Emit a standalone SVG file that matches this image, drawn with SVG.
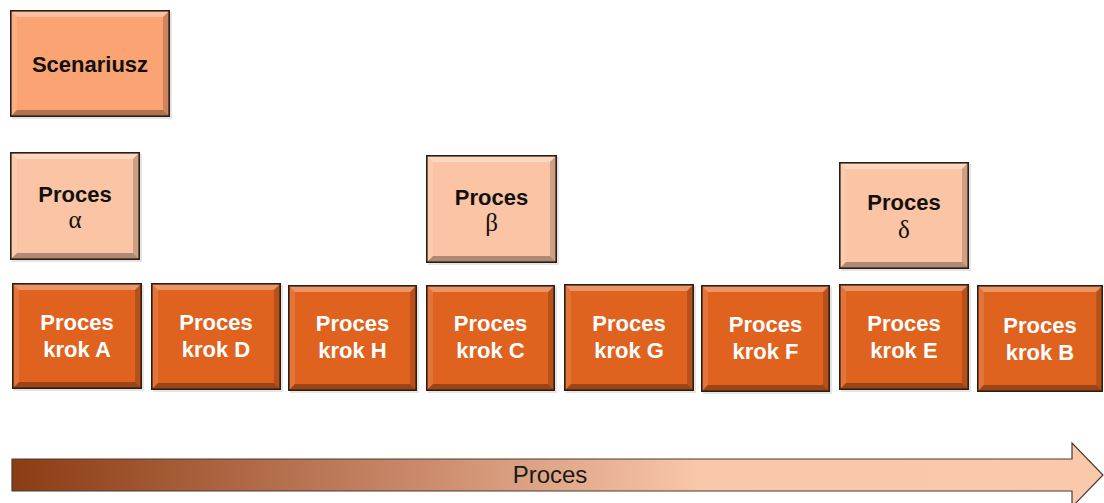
<svg xmlns="http://www.w3.org/2000/svg" xmlns:xlink="http://www.w3.org/1999/xlink" width="1104" height="503" viewBox="0 0 1104 503">
  <defs>
    <style>
      .edge { fill: none; stroke: #2a1e16; stroke-width: 1.6; }
      .hi { fill: #ffffff; opacity: 0.32; }
      .hi2 { fill: #ffffff; opacity: 0.12; }
      .lo { fill: #000000; opacity: 0.18; }
      .lo2 { fill: #000000; opacity: 0.30; }
      .shadow { fill: #000000; opacity: 0.10; }
      .scen { fill: #fba373; }
      .light { fill: #fbc4a4; }
      .dark { fill: #e0621f; }
      .lbl { font-family: "Liberation Sans", Arial, sans-serif; font-weight: bold; font-size: 22px; text-anchor: middle; }
      .lbl-dark { fill: #111111; }
      .lbl-white { fill: #ffffff; }
      .greek { font-family: "Liberation Serif", "Times New Roman", serif; font-size: 25px; fill: #111111; text-anchor: middle; }
      .axis { font-family: "Liberation Sans", Arial, sans-serif; font-size: 24px; fill: #1a1a1a; text-anchor: middle; }
    </style>
    <!-- bevel overlay for 130x107 boxes, stretched to each box's size -->
    <symbol id="bevel" viewBox="0 0 130 107" preserveAspectRatio="none">
      <polygon class="hi" points="0,0 130,0 123,7 7,7"/>
      <polygon class="hi2" points="0,0 7,7 7,100 0,107"/>
      <polygon class="lo" points="130,0 130,107 123,100 123,7"/>
      <polygon class="lo2" points="0,107 130,107 123,100 7,100"/>
      <rect class="edge" x="0.8" y="0.8" width="128.4" height="105.4"/>
    </symbol>
    <symbol id="bevelWide" viewBox="0 0 160 107" preserveAspectRatio="none">
      <polygon class="hi" points="0,0 160,0 153,7 7,7"/>
      <polygon class="hi2" points="0,0 7,7 7,100 0,107"/>
      <polygon class="lo" points="160,0 160,107 153,100 153,7"/>
      <polygon class="lo2" points="0,107 160,107 153,100 7,100"/>
      <rect class="edge" x="0.8" y="0.8" width="158.4" height="105.4"/>
    </symbol>
    <linearGradient id="axisGrad" gradientUnits="userSpaceOnUse" x1="12" y1="0" x2="1103" y2="0">
      <stop offset="0" stop-color="#8b3c14"/>
      <stop offset="0.37" stop-color="#c9896a"/>
      <stop offset="0.63" stop-color="#f9c7a9"/>
      <stop offset="1" stop-color="#fac8aa"/>
    </linearGradient>
  </defs>

  <rect width="1104" height="503" fill="#ffffff"/>

  <!-- scenario header -->
  <g id="scenariusz">
    <rect class="shadow" x="12" y="12" width="160" height="107"/>
    <rect class="scen" x="10" y="10" width="160" height="107"/>
    <use xlink:href="#bevelWide" x="10" y="10" width="160" height="107"/>
    <text class="lbl lbl-dark" x="90" y="72">Scenariusz</text>
  </g>

  <!-- sub-processes -->
  <g id="proces-alpha">
    <rect class="shadow" x="12" y="154" width="130" height="108"/>
    <rect class="light" x="10" y="152" width="130" height="108"/>
    <use xlink:href="#bevel" x="10" y="152" width="130" height="108"/>
    <text class="lbl lbl-dark" x="75" y="202">Proces</text>
    <text class="greek" x="75" y="228">α</text>
  </g>
  <g id="proces-beta">
    <rect class="shadow" x="428" y="157" width="131" height="108"/>
    <rect class="light" x="426" y="155" width="131" height="108"/>
    <use xlink:href="#bevel" x="426" y="155" width="131" height="108"/>
    <text class="lbl lbl-dark" x="491.5" y="205">Proces</text>
    <text class="greek" x="491.5" y="231">β</text>
  </g>
  <g id="proces-delta">
    <rect class="shadow" x="841" y="164" width="130" height="107"/>
    <rect class="light" x="839" y="162" width="130" height="107"/>
    <use xlink:href="#bevel" x="839" y="162" width="130" height="107"/>
    <text class="lbl lbl-dark" x="904" y="210">Proces</text>
    <text class="greek" x="904" y="238">δ</text>
  </g>

  <!-- process steps -->
  <g id="krok-a">
    <rect class="shadow" x="14" y="285" width="130" height="106"/>
    <rect class="dark" x="12" y="283" width="130" height="106"/>
    <use xlink:href="#bevel" x="12" y="283" width="130" height="106"/>
    <text class="lbl lbl-white" x="77" y="330">Proces</text>
    <text class="lbl lbl-white" x="77" y="357">krok A</text>
  </g>
  <g id="krok-d">
    <rect class="shadow" x="153" y="285" width="130" height="107"/>
    <rect class="dark" x="151" y="283" width="130" height="107"/>
    <use xlink:href="#bevel" x="151" y="283" width="130" height="107"/>
    <text class="lbl lbl-white" x="216" y="330">Proces</text>
    <text class="lbl lbl-white" x="216" y="357">krok D</text>
  </g>
  <g id="krok-h">
    <rect class="shadow" x="290" y="287" width="129" height="106"/>
    <rect class="dark" x="288" y="285" width="129" height="106"/>
    <use xlink:href="#bevel" x="288" y="285" width="129" height="106"/>
    <text class="lbl lbl-white" x="352.5" y="331">Proces</text>
    <text class="lbl lbl-white" x="352.5" y="358">krok H</text>
  </g>
  <g id="krok-c">
    <rect class="shadow" x="428" y="287" width="129" height="106"/>
    <rect class="dark" x="426" y="285" width="129" height="106"/>
    <use xlink:href="#bevel" x="426" y="285" width="129" height="106"/>
    <text class="lbl lbl-white" x="490.5" y="331">Proces</text>
    <text class="lbl lbl-white" x="490.5" y="358">krok C</text>
  </g>
  <g id="krok-g">
    <rect class="shadow" x="566" y="286" width="130" height="107"/>
    <rect class="dark" x="564" y="284" width="130" height="107"/>
    <use xlink:href="#bevel" x="564" y="284" width="130" height="107"/>
    <text class="lbl lbl-white" x="629" y="331">Proces</text>
    <text class="lbl lbl-white" x="629" y="358">krok G</text>
  </g>
  <g id="krok-f">
    <rect class="shadow" x="703" y="287" width="129" height="107"/>
    <rect class="dark" x="701" y="285" width="129" height="107"/>
    <use xlink:href="#bevel" x="701" y="285" width="129" height="107"/>
    <text class="lbl lbl-white" x="765.5" y="332">Proces</text>
    <text class="lbl lbl-white" x="765.5" y="359">krok F</text>
  </g>
  <g id="krok-e">
    <rect class="shadow" x="841" y="286" width="130" height="106"/>
    <rect class="dark" x="839" y="284" width="130" height="106"/>
    <use xlink:href="#bevel" x="839" y="284" width="130" height="106"/>
    <text class="lbl lbl-white" x="904" y="331">Proces</text>
    <text class="lbl lbl-white" x="904" y="358">krok E</text>
  </g>
  <g id="krok-b">
    <rect class="dark" x="977" y="285" width="126" height="107"/>
    <use xlink:href="#bevel" x="977" y="285" width="126" height="107"/>
    <text class="lbl lbl-white" x="1040" y="333">Proces</text>
    <text class="lbl lbl-white" x="1040" y="360">krok B</text>
  </g>

  <!-- process axis arrow -->
  <g id="connectors">
    <polygon points="12,459 1072,459 1072,443 1103,475 1072,507 1072,491 12,491" fill="url(#axisGrad)" stroke="#4a3a35" stroke-width="1.2"/>
    <text class="axis" x="550" y="483">Proces</text>
  </g>
</svg>
